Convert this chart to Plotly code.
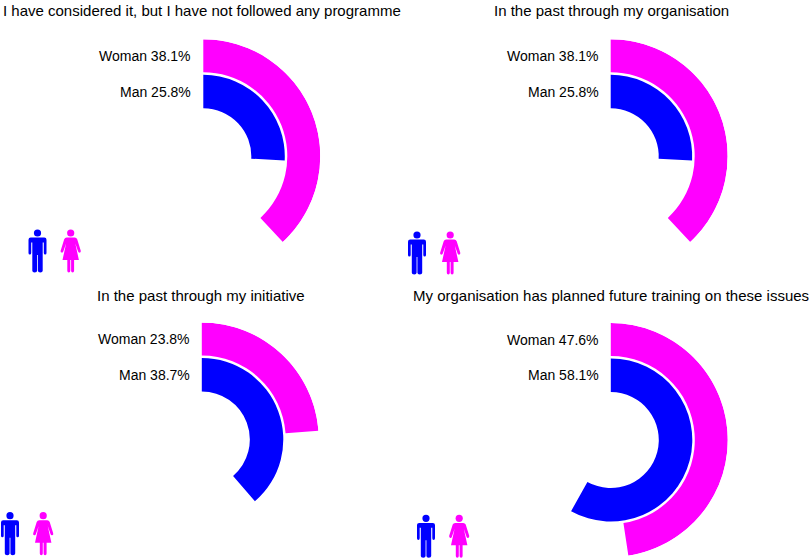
import plotly.graph_objects as go

W, H = 809, 560

titles = [
    "I have considered it, but I have not followed any programme",
    "In the past through my organisation",
    "In the past through my initiative",
    "My organisation has planned future training on these issues",
]
woman_pct = [38.1, 38.1, 23.8, 47.6]
man_pct = [25.8, 25.8, 38.7, 58.1]

BLUE = "#0000ff"
MAGENTA = "#ff00ff"

centers = [(203.3, 156.3), (610.7, 156.3), (201.8, 439.5), (610.8, 440.0)]
# (x, y, anchor) of each title
title_pos = [(1, 10, "left"), (611, 10, "center"), (201, 295, "center"), (611, 295, "center")]
icon_pos = [(37.5, 233), (417, 235), (10, 515.7), (426, 518.3)]
R = 117
MAN_BAND = (48, 81.5)
WOMAN_BAND = (84, 117)


def px(x):
    return x / W


def py(y):
    return 1 - y / H


MAN_BODY = [
    ("M", -6.8, 4.6), ("L", 6.8, 4.6), ("Q", 9, 4.6, 9, 6.8), ("L", 9, 20),
    ("Q", 9, 21.6, 7.65, 21.6), ("Q", 6.3, 21.6, 6.3, 20), ("L", 6.3, 9.5),
    ("L", 5.2, 9.5), ("L", 5.2, 37.8), ("Q", 5.2, 39.5, 2.8, 39.5),
    ("Q", 0.4, 39.5, 0.4, 37.8), ("L", 0.4, 22), ("L", -0.4, 22),
    ("L", -0.4, 37.8), ("Q", -0.4, 39.5, -2.8, 39.5), ("Q", -5.2, 39.5, -5.2, 37.8),
    ("L", -5.2, 9.5), ("L", -6.3, 9.5), ("L", -6.3, 20), ("Q", -6.3, 21.6, -7.65, 21.6),
    ("Q", -9, 21.6, -9, 20), ("L", -9, 6.8), ("Q", -9, 4.6, -6.8, 4.6), ("Z",),
]

WOMAN_BODY = [
    ("M", -4, 4.6), ("L", 4, 4.6), ("Q", 5.8, 4.6, 6.5, 6.3), ("L", 10, 17.5),
    ("Q", 10.4, 19.2, 9, 19.6), ("Q", 7.8, 19.8, 7.4, 18.6), ("L", 4.6, 10.5),
    ("L", 8.2, 27), ("L", 3.4, 27), ("L", 3.4, 37.8), ("Q", 3.4, 39.5, 1.9, 39.5),
    ("Q", 0.4, 39.5, 0.4, 37.8), ("L", 0.4, 27), ("L", -0.4, 27), ("L", -0.4, 37.8),
    ("Q", -0.4, 39.5, -1.9, 39.5), ("Q", -3.4, 39.5, -3.4, 37.8), ("L", -3.4, 27),
    ("L", -8.2, 27), ("L", -4.6, 10.5), ("L", -7.4, 18.6), ("Q", -7.8, 19.8, -9, 19.6),
    ("Q", -10.4, 19.2, -10, 17.5), ("L", -6.5, 6.3), ("Q", -5.8, 4.6, -4, 4.6), ("Z",),
]


def icon_path(cmds, ox, oy):
    out = []
    for cmd, *c in cmds:
        seg = cmd
        for k in range(0, len(c), 2):
            seg += f" {px(ox + c[k]):.5f},{py(oy + c[k + 1]):.5f}"
        out.append(seg)
    return " ".join(out)


fig = go.Figure()
shapes = []
annotations = []
font = dict(family="Liberation Sans, Arial, sans-serif", color="#000000")

for i in range(4):
    sp = "polar" if i == 0 else f"polar{i + 1}"
    cx, cy = centers[i]
    for pct, band, color, name in [
        (man_pct[i], MAN_BAND, BLUE, "Man"),
        (woman_pct[i], WOMAN_BAND, MAGENTA, "Woman"),
    ]:
        deg = pct * 3.6
        fig.add_trace(
            go.Barpolar(
                r=[band[1] - band[0]],
                base=[band[0]],
                theta=[deg / 2],
                width=[deg],
                marker_color=color,
                marker_line_width=0,
                name=name,
                subplot=sp,
                showlegend=False,
                hoverinfo="skip",
            )
        )

    fig.update_layout(
        **{
            sp: dict(
                domain=dict(
                    x=[px(cx - R), px(cx + R)],
                    y=[py(cy + R), py(cy - R)],
                ),
                bgcolor="white",
                radialaxis=dict(range=[0, R], visible=False),
                angularaxis=dict(visible=False, direction="clockwise", rotation=90),
            )
        }
    )

    # title
    tx, ty, anchor = title_pos[i]
    annotations.append(
        dict(
            text=titles[i], x=px(tx), y=py(ty), xref="paper", yref="paper",
            xanchor=anchor, yanchor="middle", showarrow=False,
            font=dict(size=15, **font),
        )
    )
    # series labels
    for label, pct, band in [
        ("Woman", woman_pct[i], WOMAN_BAND),
        ("Man", man_pct[i], MAN_BAND),
    ]:
        annotations.append(
            dict(
                text=f"{label} {pct}%", x=px(cx - 10), y=py(cy - (band[0] + band[1]) / 2),
                xref="paper", yref="paper", xanchor="right", yanchor="middle",
                showarrow=False, font=dict(size=14, **font),
            )
        )

    # man / woman icons
    mx, my = icon_pos[i]
    for ox, body, color in [(mx, MAN_BODY, BLUE), (mx + 33.2, WOMAN_BODY, MAGENTA)]:
        shapes.append(
            dict(type="circle", xref="paper", yref="paper",
                 x0=px(ox - 3.6), x1=px(ox + 3.6), y0=py(my + 3.6), y1=py(my - 3.6),
                 fillcolor=color, line_width=0)
        )
        shapes.append(
            dict(type="path", xref="paper", yref="paper", path=icon_path(body, ox, my),
                 fillcolor=color, line_width=0)
        )

fig.update_layout(
    width=W,
    height=H,
    margin=dict(l=0, r=0, t=0, b=0, pad=0),
    paper_bgcolor="white",
    plot_bgcolor="white",
    shapes=shapes,
    annotations=annotations,
    showlegend=False,
)

# drop the browser's default body margin so the figure sits at the page corner
fig.write_html(
    "out.html",
    config={"displayModeBar": False},
    post_script="document.body.style.margin = '0';",
)
